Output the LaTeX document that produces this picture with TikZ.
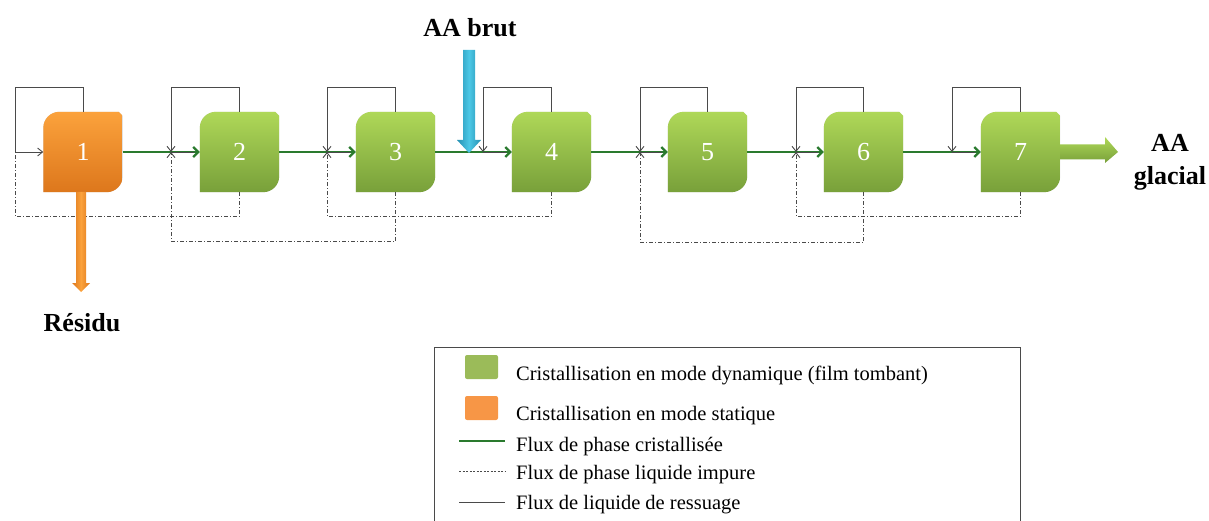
\documentclass[tikz,border=0pt]{standalone}
\usepackage{fontspec}
\setmainfont{Liberation Serif}
\usetikzlibrary{arrows.meta,calc,backgrounds}
\definecolor{flowgreen}{HTML}{2A7A2E}
\definecolor{gtop}{HTML}{AFD858}
\definecolor{gbot}{HTML}{78A03A}
\definecolor{otop}{HTML}{FBA23C}
\definecolor{obot}{HTML}{DD771C}
\definecolor{lineg}{HTML}{4A4A4A}
\definecolor{legg}{HTML}{9BBB59}
\definecolor{lego}{HTML}{F79646}
\definecolor{bluel}{HTML}{4CC8E6}
\definecolor{blued}{HTML}{2590B2}
\newcommand{\stagepath}[1]{(#1.south west) -- ($(#1.north west)+(0,16)$) .. controls +(0,-8.8) and +(-8.8,0) .. ($(#1.north west)+(16,0)$) -- ($(#1.north east)+(-4,0)$) -- ($(#1.north east)+(0,4)$) -- ($(#1.south east)+(0,-16)$) .. controls +(0,8.8) and +(8.8,0) .. ($(#1.south east)+(-16,0)$) -- cycle}
\newcommand{\stageshape}[3]{%
  \begin{scope}[shift={(1.5,2.5)}]\fill[black,opacity=0.18] \stagepath{#1};\end{scope}
  \shade[top color=#2,bottom color=#3] \stagepath{#1};}
\tikzset{
  stage/.style={minimum width=79pt,minimum height=80pt,inner sep=0pt,text=white,
    font=\fontsize{26}{30}\selectfont},
  flow/.style={draw=flowgreen,line width=2.2pt,-{Straight Barb[length=5pt,width=10pt]}},
  bleed/.style={draw=lineg,line width=0.9pt},
  impure/.style={draw=lineg,line width=0.9pt,dash pattern=on 4pt off 2pt on 1pt off 2pt},
  vtip/.style={-{Straight Barb[length=5pt,width=8pt]}},
  biglabel/.style={font=\bfseries\fontsize{26}{33}\selectfont,align=center},
  legtext/.style={anchor=base west,inner sep=0pt,font=\fontsize{20.5}{24}\selectfont},
  swatch/.style={minimum width=33pt,minimum height=24pt,inner sep=0pt,rounded corners=2pt}
}
\begin{document}
\begin{tikzpicture}[x=1pt,y=-1pt]
\useasboundingbox (0,0) rectangle (1209,521);
% stages
\node[stage] (b1) at (83,152) {1};
\node[stage] (b2) at (239.5,152) {2};
\node[stage] (b3) at (395.5,152) {3};
\node[stage] (b4) at (551.5,152) {4};
\node[stage] (b5) at (707.5,152) {5};
\node[stage] (b6) at (863.5,152) {6};
\node[stage] (b7) at (1020.5,152) {7};
\begin{scope}[on background layer]
\stageshape{b1}{otop}{obot}
\stageshape{b2}{gtop}{gbot}
\stageshape{b3}{gtop}{gbot}
\stageshape{b4}{gtop}{gbot}
\stageshape{b5}{gtop}{gbot}
\stageshape{b6}{gtop}{gbot}
\stageshape{b7}{gtop}{gbot}
\end{scope}
% junctions
\coordinate (j1) at (15,152);
\coordinate (j2) at (171,152);
\coordinate (j3) at (327,152);
\coordinate (j4) at (483,152);
\coordinate (j5) at (640,152);
\coordinate (j6) at (796,152);
\coordinate (j7) at (952,152);
% crystallised flow
\draw[flow] (b1.east) -- (b2.west);
\draw[flow] (b2.east) -- (b3.west);
\draw[flow] (b3.east) -- (b4.west);
\draw[flow] (b4.east) -- (b5.west);
\draw[flow] (b5.east) -- (b6.west);
\draw[flow] (b6.east) -- (b7.west);
\foreach \i in {2,...,7}{\draw[bleed,shorten >=6pt] (j\i) -- (b\i.west);}
% sweating liquid loops
\draw[bleed,vtip] (b1.north) -- ++(0,-24) -| (j1) -- (b1.west);
\foreach \i in {2,...,7}{\draw[bleed,vtip] (b\i.north) -- ++(0,-24) -| (j\i);}
% impure liquid
\draw[impure] (b2.south) -- ++(0,24) -| (j1);
\draw[impure,vtip] (b3.south) -- ++(0,49) -| (j2);
\draw[impure,vtip] (b4.south) -- ++(0,24) -| (j3);
\draw[impure,vtip] (b6.south) -- ++(0,50) -| (j5);
\draw[impure,vtip] (b7.south) -- ++(0,24) -| (j6);
% feed
\node[biglabel] (brut) at (470,28) {AA brut};
\coordinate (feedtop) at (469,50);
\coordinate (feedtip) at (469,153);
\shade[left color=blued,right color=blued,middle color=bluel]
  ($(feedtop)+(-6,0)$) -- ($(feedtop)+(6,0)$) -- ($(feedtip)+(6,-13)$) -- ($(feedtip)+(12,-13)$)
  -- (feedtip) -- ($(feedtip)+(-12,-13)$) -- ($(feedtip)+(-6,-13)$) -- cycle;
% residue
\node[biglabel] (res) at (82,323) {Résidu};
\coordinate (restop) at (81,192);
\coordinate (restip) at (81,292);
\shade[left color=obot,right color=obot,middle color=otop]
  ($(restop)+(-5,0)$) -- ($(restop)+(5,0)$) -- ($(restip)+(5,-9)$) -- ($(restip)+(9,-9)$)
  -- (restip) -- ($(restip)+(-9,-9)$) -- ($(restip)+(-5,-9)$) -- cycle;
% product
\node[biglabel] (glac) at (1170,162) {AA\\glacial};
\coordinate (prodtip) at (1118,152);
\shade[top color=gtop,bottom color=gbot]
  (b7.east |- 0,144.5) -- ($(prodtip)+(-13,-7.5)$) -- ($(prodtip)+(-13,-15)$) -- (prodtip)
  -- ($(prodtip)+(-13,11)$) -- ($(prodtip)+(-13,7.5)$) -- (b7.east |- 0,159.5) -- cycle;
% legend
\draw[lineg,line width=0.9pt] (434,521) -- (434,347) -- (1020,347) -- (1020,521);
\node[swatch,fill=legg] (sg) at (481.5,367) {};
\node[swatch,fill=lego] (so) at (481.5,408) {};
\node[legtext] (t1) at (516,380) {Cristallisation en mode dynamique (film tombant)};
\node[legtext] (t2) at (516,420) {Cristallisation en mode statique};
\node[legtext] (t3) at (516,451) {Flux de phase cristallisée};
\node[legtext] (t4) at (516,479) {Flux de phase liquide impure};
\node[legtext] (t5) at (516,509) {Flux de liquide de ressuage};
\coordinate (l3a) at (459,441); \coordinate (l3b) at (505,441);
\coordinate (l4a) at (459,471); \coordinate (l4b) at (505,471);
\coordinate (l5a) at (459,502); \coordinate (l5b) at (505,502);
\draw[draw=flowgreen,line width=2.2pt] (l3a) -- (l3b);
\draw[lineg,line width=0.9pt,dash pattern=on 2pt off 1.5pt] (l4a) -- (l4b);
\draw[bleed] (l5a) -- (l5b);
\end{tikzpicture}
\end{document}
